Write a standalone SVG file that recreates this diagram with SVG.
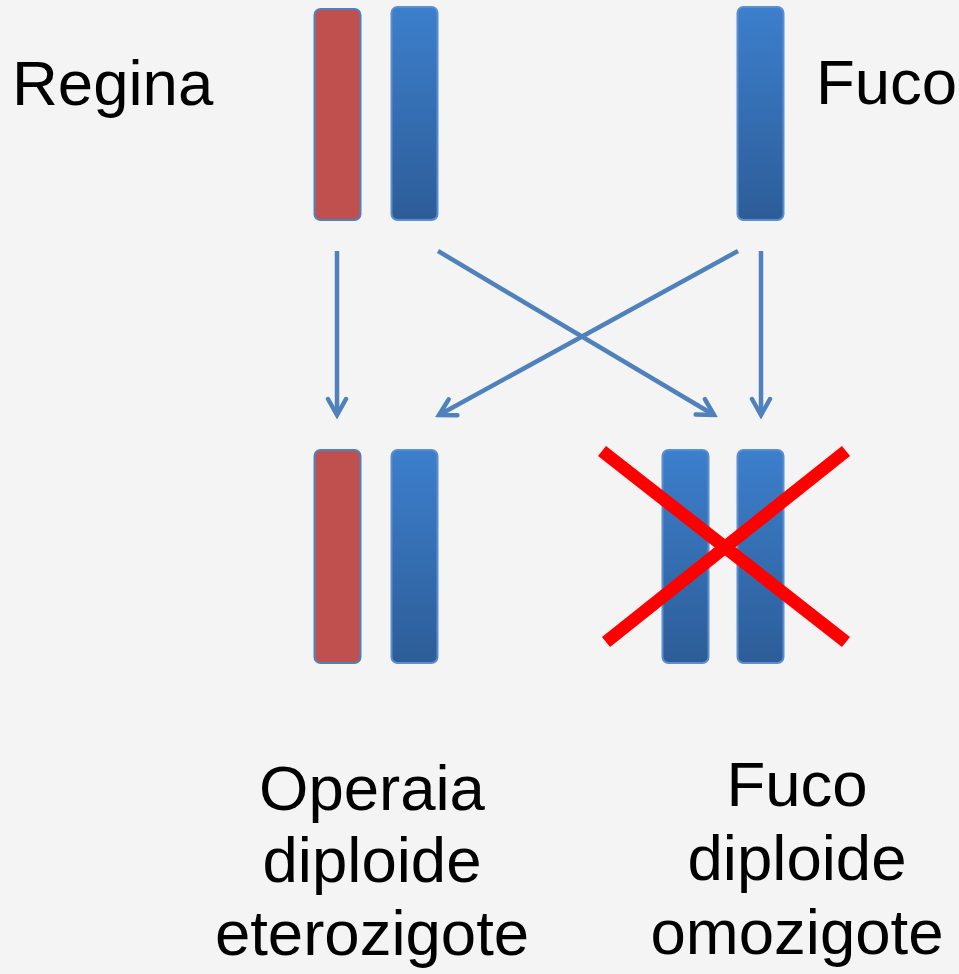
<svg xmlns="http://www.w3.org/2000/svg" width="959" height="974" viewBox="0 0 959 974">
<defs>
<linearGradient id="blueGrad" x1="0" y1="0" x2="0" y2="1">
<stop offset="0" stop-color="#3c7fcc"/>
<stop offset="1" stop-color="#2d5d98"/>
</linearGradient>
<marker id="arrow" viewBox="0 0 24 24" refX="20" refY="12" markerWidth="24" markerHeight="24" markerUnits="userSpaceOnUse" orient="auto">
<path d="M4,3 L20,12 L4,21" fill="none" stroke="#4f81bd" stroke-width="4.5" stroke-linecap="round" stroke-linejoin="miter"/>
</marker>
<style>
.txt{font-family:"Liberation Sans",Arial,sans-serif;font-size:63.5px;fill:#000000}
.red{fill:#c0504d;stroke:#4f81bd;stroke-width:2}
.blue{fill:url(#blueGrad);stroke:#5b8ed0;stroke-width:2}
.conn{stroke:#4f81bd;stroke-width:4.5;fill:none;marker-end:url(#arrow)}
.cross{stroke:#ff0000;stroke-width:13;stroke-linecap:butt}
</style>
</defs>
<rect width="959" height="974" fill="#f4f4f4"/>
<g id="regina-label"><text class="txt" x="12" y="105">Regina</text></g>
<g id="fuco-label"><text class="txt" x="816" y="104">Fuco</text></g>
<g id="regina-chr1"><rect class="red" x="314.5" y="9" width="46" height="211" rx="6"/></g>
<g id="regina-chr2"><rect class="blue" x="391.5" y="7" width="46" height="213" rx="6"/></g>
<g id="fuco-chr"><rect class="blue" x="737.5" y="7" width="46" height="213" rx="6"/></g>
<g id="operaia-chr1"><rect class="red" x="314.5" y="450" width="46" height="213" rx="6"/></g>
<g id="operaia-chr2"><rect class="blue" x="391.5" y="450" width="46" height="213" rx="6"/></g>
<g id="fuco2-chr1"><rect class="blue" x="662.5" y="450" width="46" height="213" rx="6"/></g>
<g id="fuco2-chr2"><rect class="blue" x="737.5" y="450" width="46" height="213" rx="6"/></g>
<g id="connectors">
<line class="conn" x1="337" y1="251" x2="337" y2="415"/>
<line class="conn" x1="438" y1="251" x2="714" y2="415"/>
<line class="conn" x1="738" y1="251" x2="439" y2="415"/>
<line class="conn" x1="761" y1="251" x2="761" y2="415"/>
</g>
<g id="cross">
<line class="cross" x1="602" y1="451" x2="846" y2="642"/>
<line class="cross" x1="846" y1="451" x2="606" y2="642"/>
</g>
<g id="operaia-label">
<text class="txt" text-anchor="middle" x="372" y="810">Operaia</text>
<text class="txt" text-anchor="middle" x="372" y="882">diploide</text>
<text class="txt" text-anchor="middle" x="372" y="955">eterozigote</text>
</g>
<g id="fuco2-label">
<text class="txt" text-anchor="middle" x="797" y="806">Fuco</text>
<text class="txt" text-anchor="middle" x="797" y="880">diploide</text>
<text class="txt" text-anchor="middle" x="797" y="954">omozigote</text>
</g>
</svg>
